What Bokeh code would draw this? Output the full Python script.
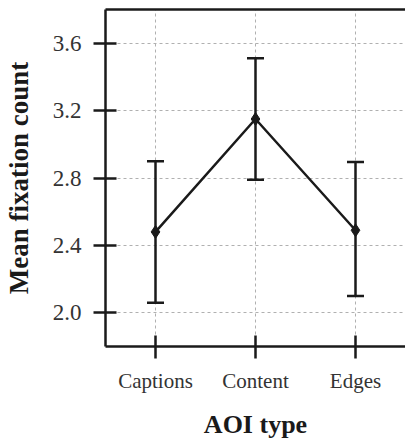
from bokeh.plotting import figure
from bokeh.models import (ColumnDataSource, Whisker, TeeHead, LinearAxis, Range1d,
                          FixedTicker, PrintfTickFormatter)
from bokeh.embed import file_html
from bokeh.resources import INLINE

categories = ["Captions", "Content", "Edges"]
means = [2.48, 3.15, 2.49]
upper = [2.90, 3.51, 2.895]
lower = [2.06, 2.79, 2.10]
y_ticks = [2.0, 2.4, 2.8, 3.2, 3.6]

FONT = "'Liberation Serif', 'DejaVu Serif', serif"
INK = "#1a1a1a"

xpos = list(range(1, len(categories) + 1))
src = ColumnDataSource(dict(x=xpos, mean=means, up=upper, lo=lower))

p = figure(width=405, height=441, x_range=Range1d(0.5, len(categories) + 0.5),
           y_range=Range1d(1.8, 3.8), output_backend="svg", toolbar_location=None,
           min_border_left=105, min_border_right=0, min_border_top=9, min_border_bottom=93)
p.outline_line_color = None
p.background_fill_color = "white"

p.xaxis.ticker = FixedTicker(ticks=xpos)
p.xaxis.major_label_overrides = {x: c for x, c in zip(xpos, categories)}
p.yaxis.ticker = FixedTicker(ticks=y_ticks)
p.yaxis.formatter = PrintfTickFormatter(format="%.1f")

# grid
for g in (p.xgrid, p.ygrid):
    g.grid_line_color = "#b0b0b0"
    g.grid_line_dash = "3 3"
    g.grid_line_width = 1

# axes
for ax in (p.xaxis, p.yaxis):
    ax.axis_line_width = 2.5
    ax.axis_line_color = INK
    ax.major_tick_line_width = 2.5
    ax.major_tick_line_color = INK
    ax.major_tick_in = 11
    ax.major_tick_out = 12
    ax.minor_tick_line_color = None
    ax.major_label_text_font = FONT
    ax.major_label_text_color = "#333333"
    ax.axis_label_text_font = FONT
    ax.axis_label_text_font_style = "bold"
    ax.axis_label_text_color = INK

p.yaxis.major_label_text_font_size = "23px"
p.yaxis.major_label_standoff = 12
p.yaxis.axis_label = "Mean fixation count"
p.yaxis.axis_label_text_font_size = "27px"
p.yaxis.axis_label_standoff = 16
p.xaxis.major_label_text_font_size = "21px"
p.xaxis.major_label_standoff = 10
p.xaxis.axis_label = "AOI type"
p.xaxis.axis_label_text_font_size = "26px"
p.xaxis.axis_label_standoff = 14

# top border as an empty axis
top = LinearAxis(ticker=FixedTicker(ticks=[]),
                 major_tick_line_color=None, minor_tick_line_color=None,
                 major_tick_out=0, major_tick_in=0, major_label_standoff=0,
                 axis_line_width=2.5, axis_line_color=INK)
p.add_layout(top, "above")

# data
p.line("x", "mean", source=src, line_color=INK, line_width=2.5)
w = Whisker(base="x", upper="up", lower="lo", source=src, line_color=INK, line_width=2.5,
            upper_head=TeeHead(size=17, line_color=INK, line_width=2.5),
            lower_head=TeeHead(size=17, line_color=INK, line_width=2.5))
p.add_layout(w)
p.scatter("x", "mean", source=src, marker="diamond", size=13, fill_color=INK, line_color=INK)

open("out.html", "w").write(file_html(p, INLINE))
